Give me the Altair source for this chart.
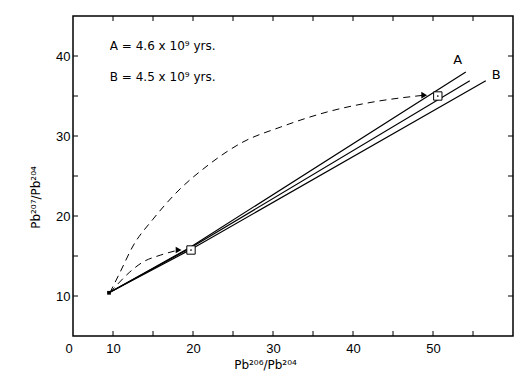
import altair as alt
import pandas as pd

# ---- data ----
line_a_x = [9.5, 19.5, 54.1]
line_a_y = [10.4, 16.0, 38.0]
line_m_x = [9.5, 19.5, 54.6]
line_m_y = [10.4, 15.9, 36.9]
line_b_x = [9.5, 19.5, 56.6]
line_b_y = [10.4, 15.7, 36.9]

curve_hi_x = [9.6, 10.9, 12.5, 15.0, 18.0, 21.75, 26.25, 30.9, 36.75, 42.5, 48.9]
curve_hi_y = [10.4, 13.0, 16.25, 19.6, 23.0, 26.25, 29.25, 31.1, 33.0, 34.25, 35.1]
curve_lo_x = [9.6, 10.6, 12.1, 13.75, 15.9, 18.2]
curve_lo_y = [10.4, 11.5, 13.0, 14.25, 15.1, 15.75]

arrow_x = [48.9, 18.2]
arrow_y = [35.1, 15.75]

square_x = [50.6, 19.75]
square_y = [35.0, 15.75]

origin_x = [9.5]
origin_y = [10.4]

x_ticks = [10, 15, 20, 25, 30, 35, 40, 45, 50, 55]
y_ticks = [10, 15, 20, 25, 30, 35, 40]
x_axis_values = [5, 10, 20, 30, 40, 50]
y_axis_values = [10, 20, 30, 40]

note_text = ["A = 4.6 x 10\u2079 yrs.", "B = 4.5 x 10\u2079 yrs."]
note_x = [9.6, 9.6]
note_y = [41.2, 37.4]

label_text = ["A", "B"]
label_x = [53.1, 57.9]
label_y = [39.5, 37.6]

FONT = "Liberation Sans"
SFONT = "DejaVu Sans"
W, H = 440, 320

xs = alt.Scale(domain=[5, 60], nice=False, zero=False)
ys = alt.Scale(domain=[5, 45], nice=False, zero=False)

rows = []
for name, xv, yv in [("A", line_a_x, line_a_y), ("M", line_m_x, line_m_y), ("B", line_b_x, line_b_y)]:
    for i, (a, b) in enumerate(zip(xv, yv)):
        rows.append({"s": name, "x": a, "y": b, "i": i})
lines_df = pd.DataFrame(rows)

crow = []
for name, xv, yv in [("hi", curve_hi_x, curve_hi_y), ("lo", curve_lo_x, curve_lo_y)]:
    for i, (a, b) in enumerate(zip(xv, yv)):
        crow.append({"s": name, "x": a, "y": b, "i": i})
curves_df = pd.DataFrame(crow)

x_axis = alt.Axis(
    values=x_axis_values, domain=False, ticks=False, tickSize=0, grid=False,
    labelExpr="datum.value == 5 ? '0' : datum.label",
    labelOffset={"condition": {"test": "datum.value == 5", "value": -8}, "value": 0},
    labelPadding=6, labelFont=FONT, labelFontSize=13, labelColor="black",
    title="Pb\u00b2\u2070\u2076/Pb\u00b2\u2070\u2074", titleFont=SFONT, titleFontSize=12,
    titleFontWeight="normal", titleColor="black",
    titleX=192, titleY=23, titleBaseline="top", titleAlign="center",
)
y_axis = alt.Axis(
    values=y_axis_values, domain=False, ticks=False, tickSize=0, grid=False,
    labelPadding=3, labelFont=FONT, labelFontSize=13, labelColor="black",
    title="Pb\u00b2\u2070\u2077/Pb\u00b2\u2070\u2074", titleFont=SFONT, titleFontSize=12,
    titleFontWeight="normal", titleColor="black",
    titleX=-38, titleY=181, titleAngle=270, titleBaseline="middle", titleAlign="center",
)


def X(field):
    return alt.X(field, scale=xs, axis=x_axis)


def Y(field):
    return alt.Y(field, scale=ys, axis=y_axis)


lines = alt.Chart(lines_df).mark_line(color="black", strokeWidth=1.2).encode(
    x=X("x:Q"), y=Y("y:Q"), detail="s:N", order="i:Q",
)

curves = alt.Chart(curves_df).mark_line(color="black", strokeWidth=1, strokeDash=[7, 5], interpolate="monotone").encode(
    x=X("x:Q"), y=Y("y:Q"), detail="s:N", order="i:Q",
)

arrows = alt.Chart(pd.DataFrame({"x": arrow_x, "y": arrow_y})).mark_point(
    shape="triangle-right", filled=True, color="black", size=45, opacity=1
).encode(x=X("x:Q"), y=Y("y:Q"))

squares = alt.Chart(pd.DataFrame({"x": square_x, "y": square_y})).mark_point(
    shape="square", filled=False, fill="white", fillOpacity=1, stroke="black", strokeWidth=1, size=70, opacity=1
).encode(x=X("x:Q"), y=Y("y:Q"))

dots = alt.Chart(pd.DataFrame({"x": square_x, "y": square_y})).mark_point(
    shape="circle", filled=True, color="black", size=3, opacity=1
).encode(x=X("x:Q"), y=Y("y:Q"))

origin = alt.Chart(pd.DataFrame({"x": origin_x, "y": origin_y})).mark_point(
    shape="square", filled=True, color="black", size=14, opacity=1
).encode(x=X("x:Q"), y=Y("y:Q"))

notes = alt.Chart(pd.DataFrame({"x": note_x, "y": note_y, "t": note_text})).mark_text(
    align="left", baseline="middle", font=SFONT, fontSize=12, color="black"
).encode(x=X("x:Q"), y=Y("y:Q"), text="t:N")

labels = alt.Chart(pd.DataFrame({"x": label_x, "y": label_y, "t": label_text})).mark_text(
    align="center", baseline="middle", font=SFONT, fontSize=13, color="black"
).encode(x=X("x:Q"), y=Y("y:Q"), text="t:N")

tick_len = 5
bottom_ticks = alt.Chart(pd.DataFrame({"x": x_ticks})).mark_rule(color="black", strokeWidth=1).encode(
    x=X("x:Q"), y=alt.value(H), y2=alt.value(H - tick_len))
top_ticks = alt.Chart(pd.DataFrame({"x": x_ticks})).mark_rule(color="black", strokeWidth=1).encode(
    x=X("x:Q"), y=alt.value(0), y2=alt.value(tick_len))
left_ticks = alt.Chart(pd.DataFrame({"y": y_ticks})).mark_rule(color="black", strokeWidth=1).encode(
    y=Y("y:Q"), x=alt.value(0), x2=alt.value(tick_len))
right_ticks = alt.Chart(pd.DataFrame({"y": y_ticks})).mark_rule(color="black", strokeWidth=1).encode(
    y=Y("y:Q"), x=alt.value(W), x2=alt.value(W - tick_len))

chart = alt.layer(
    lines, curves, arrows, squares, dots, origin, notes, labels,
    bottom_ticks, top_ticks, left_ticks, right_ticks,
).properties(
    width=W, height=H,
    autosize=alt.AutoSizeParams(type="none"),
    padding={"left": 65, "top": 8, "right": 5, "bottom": 40},
    background="white",
).configure_view(stroke="black", strokeWidth=1.5)

chart.save("out.html", embed_options={"renderer": "svg", "actions": False})
